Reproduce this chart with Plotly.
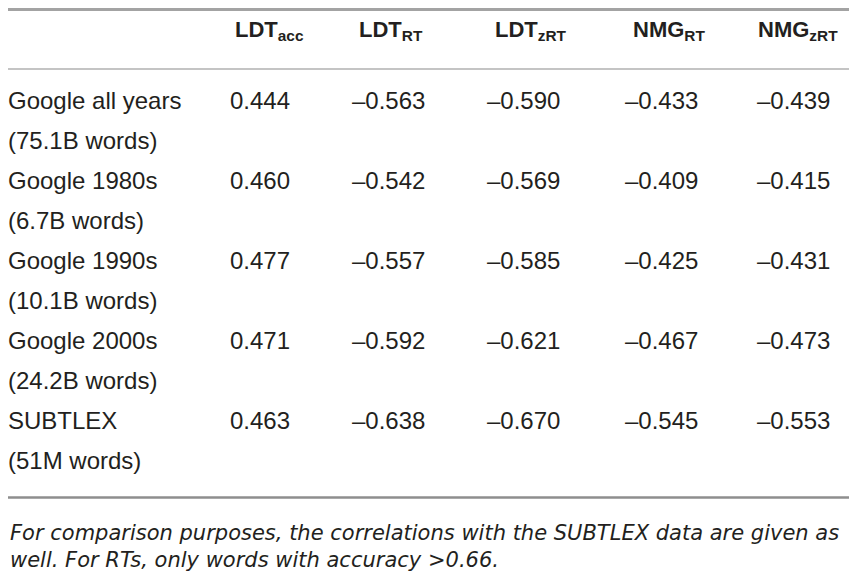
"""
Correlation table: Google Ngram frequencies vs. lexical decision / naming data
"""
import plotly.graph_objects as go

# ---- data ----
headers = ["LDT<sub>acc</sub>", "LDT<sub>RT</sub>", "LDT<sub>zRT</sub>",
           "NMG<sub>RT</sub>", "NMG<sub>zRT</sub>"]
corpora = ["Google all years", "Google 1980s", "Google 1990s", "Google 2000s", "SUBTLEX"]
corpus_sizes = ["(75.1B words)", "(6.7B words)", "(10.1B words)", "(24.2B words)", "(51M words)"]
ldt_acc = [0.444, 0.460, 0.477, 0.471, 0.463]
ldt_rt = [-0.563, -0.542, -0.557, -0.592, -0.638]
ldt_zrt = [-0.590, -0.569, -0.585, -0.621, -0.670]
nmg_rt = [-0.433, -0.409, -0.425, -0.467, -0.545]
nmg_zrt = [-0.439, -0.415, -0.431, -0.473, -0.553]
footnote = ("<i>For comparison purposes, the correlations with the SUBTLEX data are given as<br>"
            "well. For RTs, only words with accuracy &gt;0.66.</i>")

W, H = 857, 577
PAGE_PAD = 8  # default body margin of the html page; nothing can be drawn there
TEXT = "#231f20"
BODY_FONT = "Liberation Sans, Arial, sans-serif"
NOTE_FONT = "DejaVu Sans, Verdana, sans-serif"

# layout in window pixels (y grows downwards)
label_x = PAGE_PAD
header_x = [235, 359, 495, 633, 758]
value_x = [230, 352, 487, 625, 757]
header_y = 31
first_row_y = 103
line_step = 40


def fmt(v):
    # typeset minus as en dash like the original
    return f"{v:.3f}".replace("-", "\u2013")


columns = [ldt_acc, ldt_rt, ldt_zrt, nmg_rt, nmg_zrt]
row_y = [first_row_y + 2 * line_step * i for i in range(len(corpora))]


def text_trace(xs, ys, texts, size):
    return go.Scatter(
        x=xs, y=ys, text=texts, mode="text", textposition="middle right",
        textfont=dict(family=BODY_FONT, size=size, color=TEXT),
        cliponaxis=False, hoverinfo="skip", showlegend=False,
    )


fig = go.Figure()

# header
fig.add_trace(text_trace(header_x, [header_y] * len(headers),
                         [f"<b>{h}</b>" for h in headers], 22))

# row labels (two lines each)
fig.add_trace(text_trace([label_x] * len(corpora), row_y, corpora, 24))
fig.add_trace(text_trace([label_x] * len(corpus_sizes),
                         [y + line_step for y in row_y], corpus_sizes, 24))

# values
for cx, col in zip(value_x, columns):
    fig.add_trace(text_trace([cx] * len(col), row_y, [fmt(v) for v in col], 24))

# rules
rules = [(PAGE_PAD + 1.5, 3, "#a3a3a3"), (69, 1.5, "#b0b0b0"), (497.5, 2.5, "#8e8e8e")]
for y, w, c in rules:
    fig.add_shape(type="line", xref="paper", yref="y", x0=0, x1=1, y0=y, y1=y,
                  line=dict(color=c, width=w))

fig.add_annotation(
    x=0, y=546, xref="paper", yref="y", text=footnote, showarrow=False,
    xanchor="left", yanchor="middle", align="left",
    font=dict(family=NOTE_FONT, size=21, color=TEXT),
)

# figure sized to the page minus body margins (bottom runs to the window edge)
fig.update_layout(
    width=W - 2 * PAGE_PAD, height=H - PAGE_PAD,
    margin=dict(l=0, r=0, t=0, b=0),
    paper_bgcolor="white", plot_bgcolor="white",
    xaxis=dict(range=[PAGE_PAD, W - PAGE_PAD], visible=False, fixedrange=True),
    yaxis=dict(range=[H, PAGE_PAD], visible=False, fixedrange=True),
)

fig.write_html("out.html")
